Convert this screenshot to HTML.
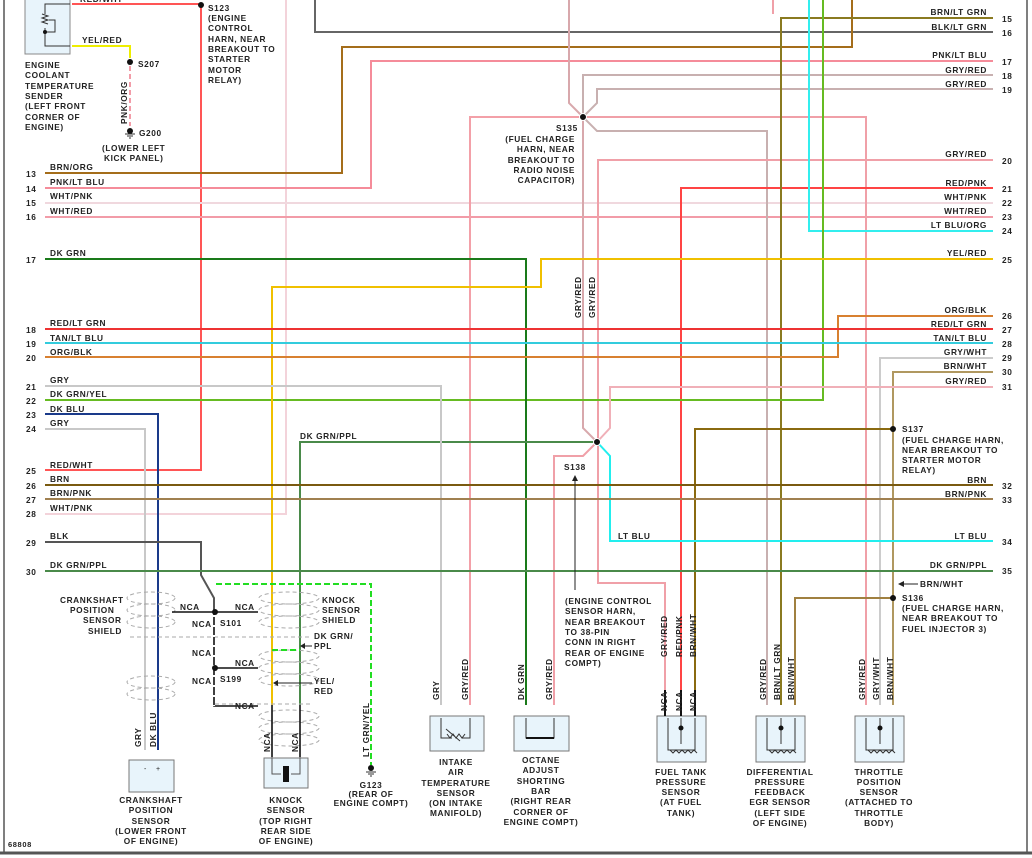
<!DOCTYPE html>
<html><head><meta charset="utf-8"><style>
html,body{margin:0;padding:0;background:#fff}
svg{display:block}
text{font-family:"Liberation Sans",sans-serif;font-size:8.3px;fill:#222;letter-spacing:0.6px}
.b{font-weight:bold}
</style></head><body>
<svg width="1032" height="858" viewBox="0 0 1032 858" xmlns="http://www.w3.org/2000/svg">
<rect x="0" y="0" width="1032" height="858" fill="#fff"/>
<line x1="4" y1="0" x2="4" y2="852" stroke="#555" stroke-width="1.5"/>
<line x1="1027" y1="0" x2="1027" y2="852" stroke="#555" stroke-width="1.5"/>
<line x1="0" y1="853" x2="1032" y2="853" stroke="#555" stroke-width="3"/>
<g fill="none" stroke-width="2" stroke-linejoin="miter">
<polyline points="72,4 201,4 201,470 45,470" stroke="#f55"/>
<polyline points="72,46 130,46 130,58" stroke="#ee0"/>
<line x1="130" y1="66" x2="130" y2="126" stroke="#f29ca8" stroke-dasharray="5,3"/>
<polyline points="286,0 286,514 45,514" stroke="#f3d3da"/>
<polyline points="315,0 315,32 993,32" stroke="#666"/>
<polyline points="45,173 342,173 342,47 852,47 852,0" stroke="#a46d1a"/>
<polyline points="45,188 371,188 371,61 993,61" stroke="#f58c9a"/>
<line x1="45" y1="203" x2="993" y2="203" stroke="#f0d8de"/>
<line x1="45" y1="217" x2="993" y2="217" stroke="#f29ca8"/>
<polyline points="470,705 470,117 583,117" stroke="#f3a0a8"/>
<polyline points="569,0 569,103 583,117" stroke="#d8a8ac"/>
<polyline points="583,117 583,75 993,75" stroke="#c8b0b0"/>
<polyline points="583,117 597,103 597,89 993,89" stroke="#c8b0b0"/>
<polyline points="583,117 866,117 866,705" stroke="#f0a0a8"/>
<polyline points="583,117 597,131 767,131 767,705" stroke="#c8b0b0"/>
<polyline points="583,117 583,428 597,442" stroke="#d8a8ac"/>
<polyline points="993,160 598,160 598,583 665,583 665,705" stroke="#f0a0a8"/>
<polyline points="993,188 681,188 681,705" stroke="#f44"/>
<polyline points="993,18 781,18 781,705" stroke="#8a7a20"/>
<polyline points="809,0 809,231 993,231" stroke="#3ee"/>
<polyline points="823,0 823,400 45,400" stroke="#6b2"/>
<line x1="773" y1="0" x2="773" y2="14" stroke="#f0a0a8"/>
<polyline points="45,259 526,259 526,705" stroke="#1a7a1a"/>
<polyline points="993,259 541,259 541,287 272,287 272,705" stroke="#f0c000"/>
<polyline points="993,316 838,316 838,357 45,357" stroke="#d88030"/>
<line x1="45" y1="329" x2="993" y2="329" stroke="#e33"/>
<line x1="45" y1="343" x2="993" y2="343" stroke="#3cd"/>
<polyline points="993,358 880,358 880,705" stroke="#ccc"/>
<polyline points="993,372 893,372 893,705" stroke="#b09860"/>
<polyline points="893,429 695,429 695,705" stroke="#8a6a10"/>
<polyline points="893,598 795,598 795,705" stroke="#a08040"/>
<polyline points="993,387 610,387 610,428 597,442" stroke="#f0b0b8"/>
<polyline points="597,442 610,456 610,541 993,541" stroke="#2ee"/>
<polyline points="597,442 583,456 554,456 554,705" stroke="#f0a0a8"/>
<polyline points="597,442 300,442 300,705" stroke="#4a8a4a"/>
<polyline points="45,386 441,386 441,705" stroke="#c8c8c8"/>
<polyline points="45,414 158,414 158,750" stroke="#1a3a8a"/>
<polyline points="45,429 145,429 145,750" stroke="#c8c8c8"/>
<line x1="45" y1="485" x2="993" y2="485" stroke="#7a5a10"/>
<line x1="45" y1="499" x2="993" y2="499" stroke="#a08050"/>
<polyline points="45,542 201,542 201,575 214,598 214,612" stroke="#555"/>
<line x1="45" y1="571" x2="993" y2="571" stroke="#4a8a4a"/>
</g>
<rect x="25" y="-2" width="45" height="56" fill="#e8f4fb" stroke="#888"/>
<path d="M70,4H45V14M45,28V46H70M45,32H55V20H49" fill="none" stroke="#333"/>
<path d="M42,14l6,2-6,2 6,2-6,2 6,2" fill="none" stroke="#333"/>
<circle cx="45" cy="32" r="2" fill="#111"/>
<circle cx="201" cy="5" r="3" fill="#111"/>
<circle cx="130" cy="62" r="3" fill="#111"/>
<circle cx="130" cy="131" r="3" fill="#111"/>
<path d="M125,134h10M127,136h6M129,138h2" stroke="#333"/>
<circle cx="583" cy="117" r="3.5" fill="#111" stroke="#fff"/>
<circle cx="597" cy="442" r="3.5" fill="#111" stroke="#fff"/>
<circle cx="893" cy="429" r="3" fill="#111"/>
<circle cx="893" cy="598" r="3" fill="#111"/>
<path d="M575,590V478" stroke="#222"/><path d="M572,481l3,-6 3,6z" fill="#222"/>
<path d="M918,584H903" stroke="#222"/><path d="M904,581l-6,3 6,3z" fill="#222"/>
<g fill="none" stroke="#aaa" stroke-dasharray="4,3">
<ellipse cx="151" cy="598" rx="24" ry="6"/><ellipse cx="151" cy="610" rx="24" ry="6"/><ellipse cx="151" cy="622" rx="24" ry="6"/>
<ellipse cx="151" cy="682" rx="24" ry="6"/><ellipse cx="151" cy="694" rx="24" ry="6"/>
<ellipse cx="289" cy="598" rx="30" ry="6"/><ellipse cx="289" cy="610" rx="30" ry="6"/><ellipse cx="289" cy="622" rx="30" ry="6"/>
<ellipse cx="289" cy="656" rx="30" ry="6"/><ellipse cx="289" cy="668" rx="30" ry="6"/><ellipse cx="289" cy="680" rx="30" ry="6"/>
<ellipse cx="289" cy="716" rx="30" ry="6"/><ellipse cx="289" cy="728" rx="30" ry="6"/><ellipse cx="289" cy="740" rx="30" ry="6"/>
<path d="M130,637H310M215,704H310"/>
</g>
<g fill="none" stroke="#111" stroke-width="1.6">
<path d="M172,612H258M214,612V706H258M214,668H258"/>
<path d="M272,705V757M300,705V757"/>
</g>
<path d="M214,612V706" stroke="#fff" stroke-width="2" stroke-dasharray="2,8" stroke-dashoffset="-3"/>
<circle cx="215" cy="612" r="3" fill="#111"/>
<circle cx="215" cy="668" r="3" fill="#111"/>
<g fill="none" stroke="#2d2" stroke-width="2" stroke-dasharray="6,3">
<path d="M216,584H371V765M272,650H300"/>
</g>
<circle cx="371" cy="768" r="3" fill="#111"/>
<path d="M366,772h10M368,774h6M370,776h2" stroke="#333"/>
<path d="M312,646H304" stroke="#222"/><path d="M305,643l-5,3 5,3z" fill="#222"/>
<path d="M312,683H277" stroke="#222"/><path d="M278,680l-5,3 5,3z" fill="#222"/>
<rect x="129" y="760" width="45" height="32" fill="#e8f4fb" stroke="#777"/>
<text x="144" y="771" style="font-size:7px">-</text><text x="156" y="771" style="font-size:7px">+</text>
<rect x="264" y="758" width="44" height="30" fill="#e8f4fb" stroke="#777"/>
<path d="M272,757V774H281M300,757V774H291" fill="none" stroke="#555"/>
<rect x="283" y="766" width="6" height="16" fill="#111"/>
<g fill="#e8f4fb" stroke="#777">
<rect x="430" y="716" width="54" height="35"/><rect x="514" y="716" width="55" height="35"/>
<rect x="657" y="716" width="49" height="46"/><rect x="756" y="716" width="49" height="46"/><rect x="855" y="716" width="49" height="46"/>
</g>
<g fill="none" stroke="#333">
<path d="M441,718V738L452,738M470,718V738H462"/><path d="M447,734l3,4 3,-4 3,4 3,-4 3,4 3,-4M446,729l14,12"/>
<path d="M526,718V738H554V718"/>
<path d="M668,718V750H695V718M681,718V744"/><path d="M670,750l3,3 3,-3 3,3 3,-3 3,3 3,-3 3,3 3,-3 3,3"/>
<path d="M767,718V750H795V718M781,718V744"/><path d="M769,750l3,3 3,-3 3,3 3,-3 3,3 3,-3 3,3 3,-3 3,3"/>
<path d="M866,718V750H893V718M880,718V744"/><path d="M868,750l3,3 3,-3 3,3 3,-3 3,3 3,-3 3,3 3,-3 3,3"/>
</g>
<g stroke="#111" stroke-width="2"><path d="M665,690V716M681,690V716M695,690V716"/><path d="M526,738H554" /></g>
<circle cx="681" cy="728" r="2.5" fill="#111"/><circle cx="781" cy="728" r="2.5" fill="#111"/><circle cx="880" cy="728" r="2.5" fill="#111"/>
<g class="b">
<text x="80" y="2">RED/WHT</text><text x="82" y="43">YEL/RED</text>
<text x="25" y="68">ENGINE</text><text x="25" y="78">COOLANT</text><text x="25" y="89">TEMPERATURE</text><text x="25" y="99">SENDER</text><text x="25" y="109">(LEFT FRONT</text><text x="25" y="120">CORNER OF</text><text x="25" y="130">ENGINE)</text>
<text x="138" y="67">S207</text><text x="139" y="136">G200</text>
<text x="102" y="151">(LOWER LEFT</text><text x="104" y="161">KICK PANEL)</text>
<text x="208" y="11">S123</text><text x="208" y="21">(ENGINE</text><text x="208" y="31">CONTROL</text><text x="208" y="42">HARN, NEAR</text><text x="208" y="52">BREAKOUT TO</text><text x="208" y="62">STARTER</text><text x="208" y="73">MOTOR</text><text x="208" y="83">RELAY)</text>
<text x="556" y="131">S135</text>
<text x="575" y="142" text-anchor="end">(FUEL CHARGE</text><text x="575" y="152" text-anchor="end">HARN, NEAR</text><text x="575" y="163" text-anchor="end">BREAKOUT TO</text><text x="575" y="173" text-anchor="end">RADIO NOISE</text><text x="575" y="183" text-anchor="end">CAPACITOR)</text>
<text x="564" y="470">S138</text>
<text x="565" y="604">(ENGINE CONTROL</text><text x="565" y="614">SENSOR HARN,</text><text x="565" y="625">NEAR BREAKOUT</text><text x="565" y="635">TO 38-PIN</text><text x="565" y="645">CONN IN RIGHT</text><text x="565" y="656">REAR OF ENGINE</text><text x="565" y="666">COMPT)</text>
<text x="902" y="432">S137</text><text x="902" y="443">(FUEL CHARGE HARN,</text><text x="902" y="453">NEAR BREAKOUT TO</text><text x="902" y="463">STARTER MOTOR</text><text x="902" y="473">RELAY)</text>
<text x="920" y="587">BRN/WHT</text>
<text x="902" y="601">S136</text><text x="902" y="611">(FUEL CHARGE HARN,</text><text x="902" y="621">NEAR BREAKOUT TO</text><text x="902" y="632">FUEL INJECTOR 3)</text>
<text x="300" y="439">DK GRN/PPL</text><text x="618" y="539">LT BLU</text>
<text x="60" y="603">CRANKSHAFT</text><text x="70" y="613">POSITION</text><text x="83" y="623">SENSOR</text><text x="88" y="634">SHIELD</text>
<text x="322" y="603">KNOCK</text><text x="322" y="613">SENSOR</text><text x="322" y="623">SHIELD</text>
<text x="314" y="639">DK GRN/</text><text x="314" y="649">PPL</text><text x="314" y="684">YEL/</text><text x="314" y="694">RED</text>
<text x="180" y="610">NCA</text><text x="235" y="610">NCA</text><text x="192" y="627">NCA</text><text x="220" y="626">S101</text>
<text x="192" y="656">NCA</text><text x="235" y="666">NCA</text><text x="192" y="684">NCA</text><text x="220" y="682">S199</text><text x="235" y="709">NCA</text>
<text x="151" y="803" text-anchor="middle">CRANKSHAFT</text><text x="151" y="813" text-anchor="middle">POSITION</text><text x="151" y="824" text-anchor="middle">SENSOR</text><text x="151" y="834" text-anchor="middle">(LOWER FRONT</text><text x="151" y="844" text-anchor="middle">OF ENGINE)</text>
<text x="286" y="803" text-anchor="middle">KNOCK</text><text x="286" y="813" text-anchor="middle">SENSOR</text><text x="286" y="824" text-anchor="middle">(TOP RIGHT</text><text x="286" y="834" text-anchor="middle">REAR SIDE</text><text x="286" y="844" text-anchor="middle">OF ENGINE)</text>
<text x="371" y="788" text-anchor="middle">G123</text><text x="371" y="797" text-anchor="middle">(REAR OF</text><text x="371" y="806" text-anchor="middle">ENGINE COMPT)</text>
<text x="456" y="765" text-anchor="middle">INTAKE</text><text x="456" y="775" text-anchor="middle">AIR</text><text x="456" y="786" text-anchor="middle">TEMPERATURE</text><text x="456" y="796" text-anchor="middle">SENSOR</text><text x="456" y="806" text-anchor="middle">(ON INTAKE</text><text x="456" y="816" text-anchor="middle">MANIFOLD)</text>
<text x="541" y="763" text-anchor="middle">OCTANE</text><text x="541" y="773" text-anchor="middle">ADJUST</text><text x="541" y="784" text-anchor="middle">SHORTING</text><text x="541" y="794" text-anchor="middle">BAR</text><text x="541" y="804" text-anchor="middle">(RIGHT REAR</text><text x="541" y="815" text-anchor="middle">CORNER OF</text><text x="541" y="825" text-anchor="middle">ENGINE COMPT)</text>
<text x="681" y="775" text-anchor="middle">FUEL TANK</text><text x="681" y="785" text-anchor="middle">PRESSURE</text><text x="681" y="795" text-anchor="middle">SENSOR</text><text x="681" y="805" text-anchor="middle">(AT FUEL</text><text x="681" y="816" text-anchor="middle">TANK)</text>
<text x="780" y="775" text-anchor="middle">DIFFERENTIAL</text><text x="780" y="785" text-anchor="middle">PRESSURE</text><text x="780" y="795" text-anchor="middle">FEEDBACK</text><text x="780" y="805" text-anchor="middle">EGR SENSOR</text><text x="780" y="816" text-anchor="middle">(LEFT SIDE</text><text x="780" y="826" text-anchor="middle">OF ENGINE)</text>
<text x="879" y="775" text-anchor="middle">THROTTLE</text><text x="879" y="785" text-anchor="middle">POSITION</text><text x="879" y="795" text-anchor="middle">SENSOR</text><text x="879" y="805" text-anchor="middle">(ATTACHED TO</text><text x="879" y="816" text-anchor="middle">THROTTLE</text><text x="879" y="826" text-anchor="middle">BODY)</text>
<text x="8" y="847" style="font-size:7.5px">68808</text>
</g>
<g class="b">
<text transform="translate(127,124) rotate(-90)">PNK/ORG</text>
<text transform="translate(581,318) rotate(-90)">GRY/RED</text><text transform="translate(595,318) rotate(-90)">GRY/RED</text>
<text transform="translate(141,747) rotate(-90)">GRY</text><text transform="translate(156,747) rotate(-90)">DK BLU</text>
<text transform="translate(270,752) rotate(-90)">NCA</text><text transform="translate(298,752) rotate(-90)">NCA</text>
<text transform="translate(369,757) rotate(-90)">LT GRN/YEL</text>
<text transform="translate(439,700) rotate(-90)">GRY</text><text transform="translate(468,700) rotate(-90)">GRY/RED</text>
<text transform="translate(524,700) rotate(-90)">DK GRN</text><text transform="translate(552,700) rotate(-90)">GRY/RED</text>
<text transform="translate(667,657) rotate(-90)">GRY/RED</text><text transform="translate(682,657) rotate(-90)">RED/PNK</text><text transform="translate(696,657) rotate(-90)">BRN/WHT</text>
<text transform="translate(667,711) rotate(-90)">NCA</text><text transform="translate(682,711) rotate(-90)">NCA</text><text transform="translate(696,711) rotate(-90)">NCA</text>
<text transform="translate(766,700) rotate(-90)">GRY/RED</text><text transform="translate(780,700) rotate(-90)">BRN/LT GRN</text><text transform="translate(794,700) rotate(-90)">BRN/WHT</text>
<text transform="translate(865,700) rotate(-90)">GRY/RED</text><text transform="translate(879,700) rotate(-90)">GRY/WHT</text><text transform="translate(893,700) rotate(-90)">BRN/WHT</text>
</g>
<g class="b">
<text x="26" y="177">13</text><text x="50" y="170">BRN/ORG</text>
<text x="26" y="192">14</text><text x="50" y="185">PNK/LT BLU</text>
<text x="26" y="206">15</text><text x="50" y="199">WHT/PNK</text>
<text x="26" y="220">16</text><text x="50" y="214">WHT/RED</text>
<text x="26" y="263">17</text><text x="50" y="256">DK GRN</text>
<text x="26" y="333">18</text><text x="50" y="326">RED/LT GRN</text>
<text x="26" y="347">19</text><text x="50" y="341">TAN/LT BLU</text>
<text x="26" y="361">20</text><text x="50" y="355">ORG/BLK</text>
<text x="26" y="390">21</text><text x="50" y="383">GRY</text>
<text x="26" y="404">22</text><text x="50" y="397">DK GRN/YEL</text>
<text x="26" y="418">23</text><text x="50" y="412">DK BLU</text>
<text x="26" y="432">24</text><text x="50" y="426">GRY</text>
<text x="26" y="474">25</text><text x="50" y="468">RED/WHT</text>
<text x="26" y="489">26</text><text x="50" y="482">BRN</text>
<text x="26" y="503">27</text><text x="50" y="496">BRN/PNK</text>
<text x="26" y="517">28</text><text x="50" y="511">WHT/PNK</text>
<text x="26" y="546">29</text><text x="50" y="539">BLK</text>
<text x="26" y="575">30</text><text x="50" y="568">DK GRN/PPL</text>
</g>
<g class="b">
<g text-anchor="end">
<text x="987" y="15">BRN/LT GRN</text><text x="987" y="30">BLK/LT GRN</text><text x="987" y="58">PNK/LT BLU</text>
<text x="987" y="73">GRY/RED</text><text x="987" y="87">GRY/RED</text><text x="987" y="157">GRY/RED</text>
<text x="987" y="186">RED/PNK</text><text x="987" y="200">WHT/PNK</text><text x="987" y="214">WHT/RED</text><text x="987" y="228">LT BLU/ORG</text>
<text x="987" y="256">YEL/RED</text><text x="987" y="313">ORG/BLK</text><text x="987" y="327">RED/LT GRN</text><text x="987" y="341">TAN/LT BLU</text>
<text x="987" y="355">GRY/WHT</text><text x="987" y="369">BRN/WHT</text><text x="987" y="384">GRY/RED</text>
<text x="987" y="483">BRN</text><text x="987" y="497">BRN/PNK</text><text x="987" y="539">LT BLU</text><text x="987" y="568">DK GRN/PPL</text>
</g>
<text x="1002" y="22">15</text><text x="1002" y="36">16</text><text x="1002" y="65">17</text><text x="1002" y="79">18</text><text x="1002" y="93">19</text>
<text x="1002" y="164">20</text><text x="1002" y="192">21</text><text x="1002" y="206">22</text><text x="1002" y="220">23</text><text x="1002" y="234">24</text>
<text x="1002" y="263">25</text><text x="1002" y="319">26</text><text x="1002" y="333">27</text><text x="1002" y="347">28</text><text x="1002" y="361">29</text>
<text x="1002" y="375">30</text><text x="1002" y="390">31</text><text x="1002" y="489">32</text><text x="1002" y="503">33</text><text x="1002" y="545">34</text><text x="1002" y="574">35</text>
</g>
</svg>
</body></html>
